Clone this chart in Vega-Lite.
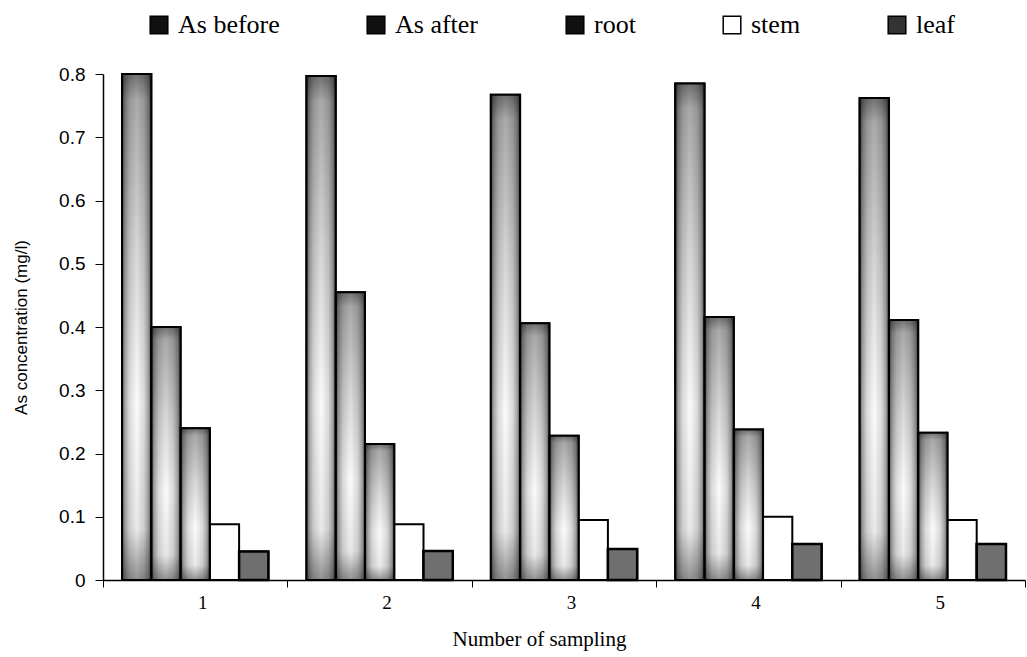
{
  "$schema": "https://vega.github.io/schema/vega-lite/v6.json",
  "width": 922,
  "height": 506,
  "autosize": {"type": "none"},
  "padding": {"left": 103, "top": 74, "right": 2, "bottom": 77},
  "background": "white",
  "config": {"view": {"stroke": null}},
  "data": {
    "values": [
      {"sample": "1", "series": "As before", "value": 0.800},
      {"sample": "1", "series": "As after", "value": 0.400},
      {"sample": "1", "series": "root", "value": 0.240},
      {"sample": "1", "series": "stem", "value": 0.088},
      {"sample": "1", "series": "leaf", "value": 0.045},
      {"sample": "2", "series": "As before", "value": 0.797},
      {"sample": "2", "series": "As after", "value": 0.455},
      {"sample": "2", "series": "root", "value": 0.215},
      {"sample": "2", "series": "stem", "value": 0.088},
      {"sample": "2", "series": "leaf", "value": 0.046},
      {"sample": "3", "series": "As before", "value": 0.767},
      {"sample": "3", "series": "As after", "value": 0.406},
      {"sample": "3", "series": "root", "value": 0.228},
      {"sample": "3", "series": "stem", "value": 0.095},
      {"sample": "3", "series": "leaf", "value": 0.049},
      {"sample": "4", "series": "As before", "value": 0.785},
      {"sample": "4", "series": "As after", "value": 0.416},
      {"sample": "4", "series": "root", "value": 0.238},
      {"sample": "4", "series": "stem", "value": 0.100},
      {"sample": "4", "series": "leaf", "value": 0.057},
      {"sample": "5", "series": "As before", "value": 0.762},
      {"sample": "5", "series": "As after", "value": 0.411},
      {"sample": "5", "series": "root", "value": 0.233},
      {"sample": "5", "series": "stem", "value": 0.095},
      {"sample": "5", "series": "leaf", "value": 0.057}
    ]
  },
  "encoding": {
    "x": {
      "field": "sample",
      "type": "nominal",
      "sort": ["1", "2", "3", "4", "5"],
      "scale": {"paddingInner": 0, "paddingOuter": 0},
      "axis": {
        "title": "Number of sampling",
        "labelAngle": 0,
        "tickBand": "extent",
        "labelFont": "Liberation Serif",
        "labelFontSize": 19,
        "labelColor": "black",
        "labelPadding": 6,
        "labelOffset": 7,
        "tickSize": 7,
        "tickColor": "black",
        "domainColor": "black",
        "domainWidth": 1.5,
        "titleFont": "Liberation Serif",
        "titleFontSize": 21,
        "titleFontWeight": "normal",
        "titleColor": "black",
        "titlePadding": 16,
        "titleX": 436,
        "titleAlign": "center"
      }
    },
    "xOffset": {
      "field": "series",
      "type": "nominal",
      "scale": {"domain": ["As before", "As after", "root", "stem", "leaf"], "paddingInner": 0, "paddingOuter": 0.65}
    },
    "y": {
      "field": "value",
      "type": "quantitative",
      "scale": {"domain": [0, 0.8], "nice": false},
      "axis": {
        "title": "As concentration (mg/l)",
        "values": [0, 0.1, 0.2, 0.3, 0.4, 0.5, 0.6, 0.7, 0.8],
        "labelExpr": "datum.value == 0 ? '0' : format(datum.value, '.1f')",
        "grid": false,
        "labelFont": "Liberation Sans",
        "labelFontSize": 19,
        "labelColor": "black",
        "labelPadding": 10,
        "tickSize": 8,
        "tickColor": "black",
        "domainColor": "black",
        "domainWidth": 1.5,
        "titleFont": "Liberation Sans",
        "titleFontSize": 17,
        "titleFontWeight": "normal",
        "titleColor": "black",
        "titlePadding": 28
      }
    }
  },
  "layer": [
    {
      "mark": {"type": "bar", "stroke": "black", "strokeWidth": 2},
      "encoding": {
        "fill": {
          "field": "series",
          "type": "nominal",
          "scale": {
            "domain": ["As before", "As after", "root", "stem", "leaf"],
            "range": ["#111111", "#111111", "#111111", "#ffffff", "#333333"]
          },
          "legend": {
            "title": null,
            "orient": "none",
            "legendX": 43,
            "legendY": -62,
            "direction": "horizontal",
            "columns": 5,
            "columnPadding": 83,
            "symbolType": "square",
            "symbolSize": 310,
            "symbolStrokeColor": "black",
            "symbolStrokeWidth": 1.5,
            "symbolOpacity": 1,
            "labelFont": "Liberation Serif",
            "labelFontSize": 26,
            "labelColor": "black",
            "labelOffset": 6,
            "labelLimit": 300
          }
        }
      }
    },
    {
      "transform": [{"filter": {"field": "series", "oneOf": ["As before", "As after", "root"]}}],
      "mark": {
        "type": "bar",
        "strokeWidth": 0,
        "fill": {
          "gradient": "linear",
          "x1": 0, "y1": 0, "x2": 1, "y2": 0,
          "stops": [
            {"offset": 0, "color": "#505050"},
            {"offset": 0.1, "color": "#a4a4a4"},
            {"offset": 0.25, "color": "#dadada"},
            {"offset": 0.5, "color": "#fbfbfb"},
            {"offset": 0.75, "color": "#dadada"},
            {"offset": 0.9, "color": "#a4a4a4"},
            {"offset": 1, "color": "#505050"}
          ]
        }
      },
      "encoding": {}
    },
    {
      "transform": [{"filter": {"field": "series", "oneOf": ["As before", "As after", "root"]}}],
      "mark": {
        "type": "bar",
        "stroke": "black",
        "strokeWidth": 2,
        "fill": {
          "gradient": "linear",
          "x1": 0, "y1": 0, "x2": 0, "y2": 1,
          "stops": [
            {"offset": 0, "color": "rgba(0,0,0,0.55)"},
            {"offset": 0.05, "color": "rgba(0,0,0,0.32)"},
            {"offset": 0.35, "color": "rgba(0,0,0,0.14)"},
            {"offset": 0.65, "color": "rgba(0,0,0,0)"},
            {"offset": 0.9, "color": "rgba(0,0,0,0.07)"},
            {"offset": 1, "color": "rgba(0,0,0,0.42)"}
          ]
        }
      },
      "encoding": {}
    },
    {
      "transform": [{"filter": {"field": "series", "equal": "leaf"}}],
      "mark": {"type": "bar", "stroke": "black", "strokeWidth": 2.5, "fill": "#6f6f6f"},
      "encoding": {}
    }
  ]
}
